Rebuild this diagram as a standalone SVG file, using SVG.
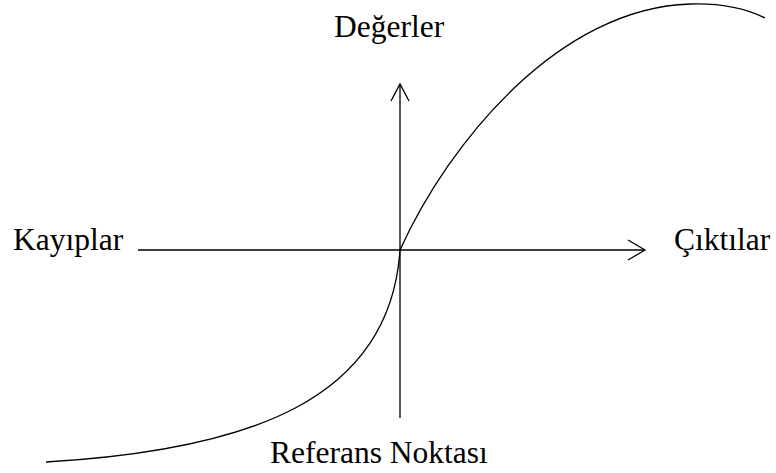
<svg xmlns="http://www.w3.org/2000/svg" width="776" height="473" viewBox="0 0 776 473">
<style>
.ln{fill:none;stroke:#000;stroke-width:1.3}
.t{font-family:"Liberation Serif","Times New Roman",serif;font-size:31.5px;fill:#000}
</style>
<rect width="776" height="473" fill="#fff"/>
<g id="connectors">
<g id="y-axis"><line class="ln" x1="400" y1="84" x2="400" y2="418"/><polyline class="ln" points="391,101 400,84 409,101"/></g>
<g id="x-axis"><line class="ln" x1="138" y1="250" x2="645" y2="250"/><polyline class="ln" points="628,240 645,250 628,260"/></g>
<path id="curve-upper" class="ln" d="M400,250 C450,140 560,8 690,4 C720,3 745,8 765,18"/>
<path id="curve-lower" class="ln" d="M46,462 C250,450 390,400 400,250"/>
</g>
<g id="label-degerler"><text class="t" x="334" y="37">Değerler</text></g>
<g id="label-kayiplar"><text class="t" x="13" y="250">Kayıplar</text></g>
<g id="label-ciktilar"><text class="t" x="674" y="250">Çıktılar</text></g>
<g id="label-referans"><text class="t" x="270" y="463">Referans Noktası</text></g>
</svg>
